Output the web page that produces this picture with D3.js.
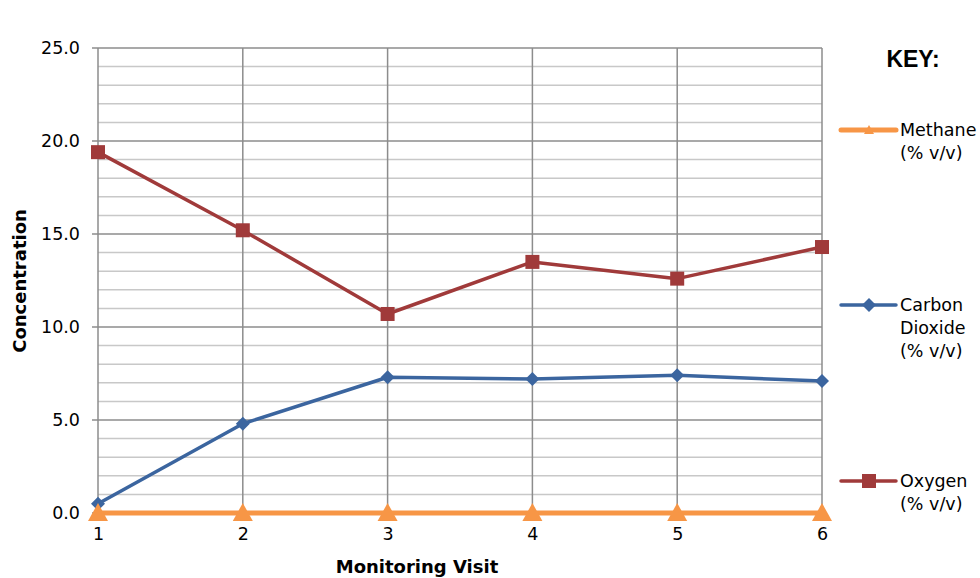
<!DOCTYPE html>
<html>
<head>
<meta charset="utf-8">
<script src="https://cdn.jsdelivr.net/npm/d3@7"></script>
<style>
  body { margin: 0; background: #fff; }
  svg { font-family: Verdana, "DejaVu Sans", sans-serif; }
</style>
</head>
<body>
<svg width="980" height="578"></svg>
<script>
// data
const visits = [1, 2, 3, 4, 5, 6];
const methane = [0, 0, 0, 0, 0, 0];
const carbonDioxide = [0.5, 4.8, 7.3, 7.2, 7.4, 7.1];
const oxygen = [19.4, 15.2, 10.7, 13.5, 12.6, 14.3];
const yTicks = [0, 5, 10, 15, 20, 25];

const series = [
    { name: ['Oxygen', '(% v/v)'], values: oxygen, color: '#A03A3A', marker: 'square', ly: 481 },
    { name: ['Carbon', 'Dioxide', '(% v/v)'], values: carbonDioxide, color: '#3B659F', marker: 'diamond', ly: 305 },
    { name: ['Methane', '(% v/v)'], values: methane, color: '#F79646', marker: 'triangle', ly: 130 },
];

const svg = d3.select('svg');
const margin = { top: 48, right: 158, bottom: 65, left: 98 };
const width = +svg.attr('width') - margin.left - margin.right;
const height = +svg.attr('height') - margin.top - margin.bottom;

const x = d3.scaleLinear().domain([1, 6]).range([0, width]);
const y = d3.scaleLinear().domain([0, 25]).range([height, 0]);

const g = svg.append('g').attr('transform', `translate(${margin.left},${margin.top})`);

// minor grid
g.append('g')
    .selectAll('line')
    .data(d3.range(0, 26).filter((v) => v % 5 !== 0))
    .enter()
    .append('line')
    .attr('x1', 0).attr('x2', width)
    .attr('y1', (d) => y(d)).attr('y2', (d) => y(d))
    .attr('stroke', '#c8c8c8')
    .attr('stroke-width', 1.5);

// major grid
g.append('g')
    .selectAll('line')
    .data(yTicks)
    .enter()
    .append('line')
    .attr('x1', -6).attr('x2', width)
    .attr('y1', (d) => y(d)).attr('y2', (d) => y(d))
    .attr('stroke', '#8c8c8c')
    .attr('stroke-width', 1.5);

// vertical grid
g.append('g')
    .selectAll('line')
    .data(visits)
    .enter()
    .append('line')
    .attr('x1', (d) => x(d)).attr('x2', (d) => x(d))
    .attr('y1', 0).attr('y2', height)
    .attr('stroke', '#8c8c8c')
    .attr('stroke-width', 1.5);

// y轴
const yAxis = g.append('g')
    .call(d3.axisLeft(y).tickValues(yTicks).tickFormat(d3.format('.1f')).tickSize(0).tickPadding(18));
yAxis.select('.domain').remove();
yAxis.selectAll('text').attr('font-size', 17.5).attr('fill', '#000').attr('font-family', 'Verdana, "DejaVu Sans", sans-serif');

// x轴
const xAxis = g.append('g')
    .attr('transform', `translate(0,${height})`)
    .call(d3.axisBottom(x).tickValues(visits).tickFormat(d3.format('d')).tickSize(0).tickPadding(15));
xAxis.select('.domain').remove();
xAxis.selectAll('text').attr('font-size', 17.5).attr('fill', '#000').attr('font-family', 'Verdana, "DejaVu Sans", sans-serif');

// axis titles
svg.append('text')
    .attr('x', 417)
    .attr('y', 573)
    .attr('text-anchor', 'middle')
    .attr('font-size', 18)
    .attr('font-weight', 'bold')
    .text('Monitoring Visit');

svg.append('text')
    .attr('transform', `translate(26,281) rotate(-90)`)
    .attr('text-anchor', 'middle')
    .attr('font-size', 18)
    .attr('font-weight', 'bold')
    .text('Concentration');

const line = d3.line()
    .x((d, i) => x(visits[i]))
    .y((d) => y(d));

function drawMarker(sel, type, color) {
    if (type === 'square') {
        sel.append('rect').attr('x', -7).attr('y', -7).attr('width', 14).attr('height', 14).attr('fill', color);
    } else if (type === 'diamond') {
        sel.append('path').attr('d', 'M0,-7L7,0L0,7L-7,0Z').attr('fill', color);
    } else {
        sel.append('path').attr('d', 'M0,-10L10,8L-10,8Z').attr('fill', color);
    }
}

// 折线
series.forEach((s) => {
    g.append('path')
        .datum(s.values)
        .attr('fill', 'none')
        .attr('stroke', s.color)
        .attr('stroke-width', s.marker === 'triangle' ? 5 : 3.5)
        .attr('stroke-linejoin', 'round')
        .attr('d', line);

    g.selectAll(null)
        .data(s.values)
        .enter()
        .append('g')
        .attr('transform', (d, i) => `translate(${x(visits[i])},${y(d)})`)
        .each(function() { drawMarker(d3.select(this), s.marker, s.color); });
});

// legend
svg.append('text')
    .attr('x', 913)
    .attr('y', 67)
    .attr('text-anchor', 'middle')
    .attr('font-size', 23)
    .attr('font-weight', 'bold')
    .attr('font-family', 'Arial, "Liberation Sans", sans-serif')
    .text('KEY:');

series.forEach((s) => {
    const lg = svg.append('g').attr('transform', `translate(0,${s.ly})`);
    lg.append('line')
        .attr('x1', 841).attr('x2', 896)
        .attr('stroke', s.color)
        .attr('stroke-width', s.marker === 'triangle' ? 5 : 3.5)
        .attr('stroke-linecap', 'round');
    const m = lg.append('g').attr('transform', s.marker === 'triangle' ? 'translate(869,0) scale(0.5)' : 'translate(869,0)');
    drawMarker(m, s.marker, s.color);
    lg.append('text')
        .attr('x', 900)
        .attr('font-size', 17.5)
        .selectAll('tspan')
        .data(s.name)
        .enter()
        .append('tspan')
        .attr('x', 900)
        .attr('y', (d, i) => 6 + i * 23)
        .text((d) => d);
});
</script>
</body>
</html>
